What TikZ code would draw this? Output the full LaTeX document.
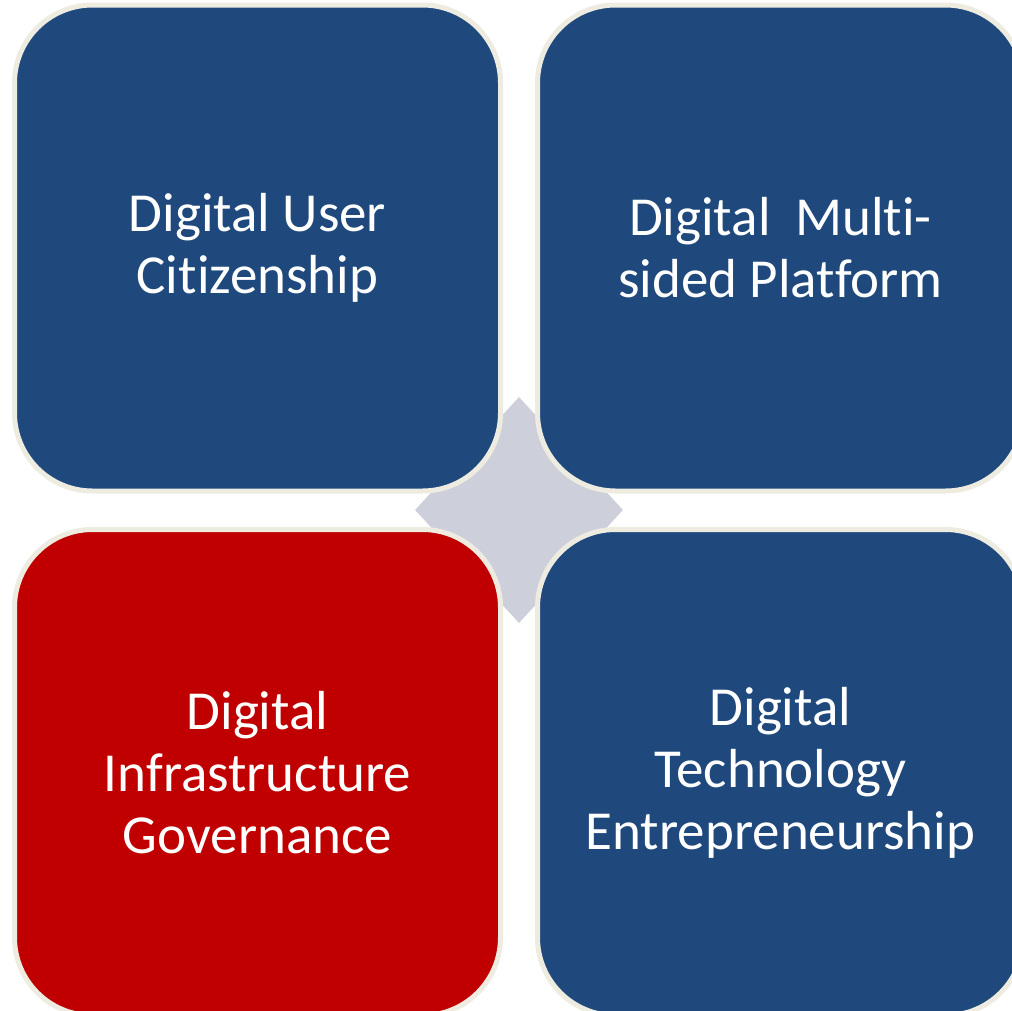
\documentclass[tikz,border=0pt]{standalone}
\usepackage{fontspec}
\setmainfont{Carlito}[Ligatures={NoCommon}]
\usetikzlibrary{shapes.geometric}
\definecolor{boxblue}{RGB}{31,73,125}
\definecolor{boxred}{RGB}{192,0,0}
\definecolor{rimcream}{RGB}{238,236,225}
\definecolor{centergray}{RGB}{205,208,218}
\tikzset{
  tile/.style={rectangle, rounded corners=78pt, draw=rimcream, line width=5pt,
    minimum width=486pt, minimum height=486pt, inner sep=0pt,
    text=white, align=center, font=\fontsize{55}{62}\selectfont},
  hub/.style={diamond, fill=centergray, draw=none, minimum width=208pt,
    minimum height=226pt, inner sep=0pt}
}
\begin{document}
\begin{tikzpicture}[x=1pt,y=-1pt]
\fill[white] (0,0) rectangle (1012,1010);
\useasboundingbox (0,0) rectangle (1012,1010);
\clip (0,0) rectangle (1012,1010);
\node[hub] (hub) at (519,510) {};
\node[tile, fill=boxblue] (user) at (257.5,248) {Digital User\\Citizenship};
\node[tile, fill=boxblue] (platform) at (780.5,248) {Digital\ \ Multi-\\sided Platform};
\node[tile, fill=boxred] (infra) at (257.5,772.5) {Digital\\Infrastructure\\Governance};
\node[tile, fill=boxblue] (tech) at (780.5,772.5) {Digital\\Technology\\Entrepreneurship};
\end{tikzpicture}
\end{document}
